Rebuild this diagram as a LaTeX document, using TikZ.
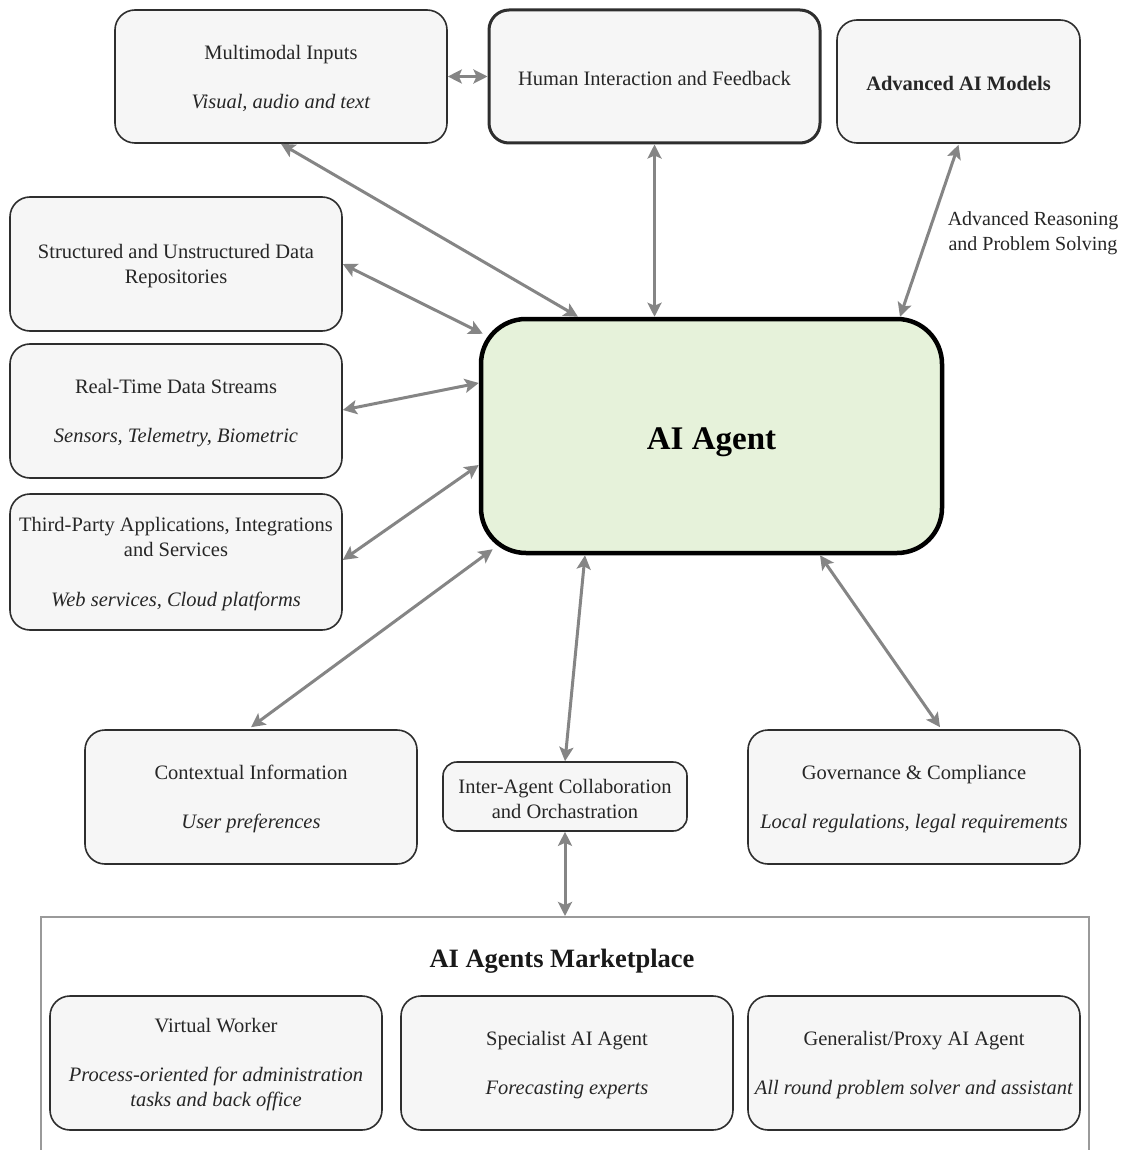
\documentclass[tikz,border=0pt]{standalone}
\usepackage{fontspec}
\setmainfont{Liberation Serif}
\usetikzlibrary{arrows.meta}
\definecolor{boxfill}{HTML}{F6F6F6}
\definecolor{boxline}{HTML}{2E2E2E}
\definecolor{agentfill}{HTML}{E6F2DA}
\definecolor{arrgray}{HTML}{858585}
\definecolor{framegray}{HTML}{9A9A9A}
\newcommand{\lowtxt}[2][2pt]{\raisebox{-#1}[\height][\depth]{#2}}
\begin{document}
\begin{tikzpicture}[x=1pt,y=-1pt,
  box/.style={draw=boxline, line width=1.6pt, fill=boxfill, rounded corners=20pt,
    align=center, inner sep=0pt, font=\fontsize{20.5}{25}\selectfont, text=black!85},
  arr/.style={{Stealth[length=14pt,width=14pt,inset=3pt]}-{Stealth[length=14pt,width=14pt,inset=3pt]},
    draw=arrgray, line width=3pt}
]
\useasboundingbox (0,0) rectangle (1124,1150);
\fill[white] (0,0) rectangle (1124,1150);

% top row
\node[box, minimum width=332pt, minimum height=133pt] (mm) at (281,76.5)
  {\lowtxt{Multimodal Inputs}\\[24pt]\lowtxt{\textit{Visual, audio and text}}};
\node[box, line width=3pt, minimum width=331pt, minimum height=133pt] (human) at (654.5,76.5)
  {\lowtxt{Human Interaction and Feedback}};
\node[box, minimum width=243pt, minimum height=123pt] (adv) at (958.5,81.5)
  {\lowtxt{\textbf{Advanced AI Models}}};

% left column
\node[box, minimum width=332pt, minimum height=134pt] (sud) at (176,264)
  {\lowtxt{Structured and Unstructured Data}\\\lowtxt{Repositories}};
\node[box, minimum width=332pt, minimum height=134pt] (rt) at (176,411)
  {\lowtxt{Real-Time Data Streams}\\[24pt]\lowtxt{\textit{Sensors, Telemetry, Biometric}}};
\node[box, minimum width=332pt, minimum height=136pt] (tp) at (176,562)
  {\lowtxt{Third-Party Applications, Integrations}\\\lowtxt{and Services}\\[25pt]\lowtxt{\textit{Web services, Cloud platforms}}};

% central agent
\node[draw=black, line width=4.5pt, fill=agentfill, rounded corners=45pt,
  minimum width=461pt, minimum height=234pt, inner sep=0pt,
  font=\fontsize{33}{38}\selectfont\bfseries] (ai) at (711.5,436) {\lowtxt[6pt]{AI Agent}};

% lower row
\node[box, minimum width=332pt, minimum height=134pt] (ctx) at (251,797)
  {\lowtxt{Contextual Information}\\[24pt]\lowtxt{\textit{User preferences}}};
\node[box, rounded corners=14pt, minimum width=244pt, minimum height=69pt] (ia) at (565,796.5)
  {\lowtxt{Inter-Agent Collaboration}\\\lowtxt{and Orchastration}};
\node[box, minimum width=332pt, minimum height=134pt] (gov) at (914,797)
  {\lowtxt{Governance \& Compliance}\\[24pt]\lowtxt{\textit{Local regulations, legal requirements}}};

% marketplace
\node[draw=framegray, line width=2pt, minimum width=1048pt, minimum height=250pt, inner sep=0pt]
  (market) at (565,1042) {};
\node[font=\fontsize{26.5}{30}\selectfont\bfseries, text=black!90] (mtitle) at (562,961)
  {AI Agents Marketplace};
\node[box, minimum width=332pt, minimum height=134pt] (vw) at (216,1063)
  {\lowtxt{Virtual Worker}\\[24pt]\lowtxt{\textit{Process-oriented for administration}}\\\lowtxt{\textit{tasks and back office}}};
\node[box, minimum width=332pt, minimum height=134pt] (spec) at (567,1063)
  {\lowtxt{Specialist AI Agent}\\[24pt]\lowtxt{\textit{Forecasting experts}}};
\node[box, minimum width=332pt, minimum height=134pt] (gen) at (914,1063)
  {\lowtxt{Generalist/Proxy AI Agent}\\[24pt]\lowtxt{\textit{All round problem solver and assistant}}};

% label
\node[align=center, font=\fontsize{20}{25}\selectfont, text=black!85] (lbl) at (1033,233)
  {Advanced Reasoning\\and Problem Solving};

% connectors
\draw[arr] (mm.east) -- (human.west);
\draw[arr] (mm.south) -- ([xshift=-133.5pt]ai.north);
\draw[arr] (human.south) -- (human.south |- ai.north);
\draw[arr] ([yshift=-1pt]adv.south) -- ([xshift=188.5pt]ai.north);
\draw[arr] (sud.east) -- ([xshift=4pt,yshift=-17pt]ai.north west);
\draw[arr] ([yshift=1pt]rt.east) -- ([yshift=53pt]ai.west);
\draw[arr] ([yshift=2pt]tp.east) -- ([yshift=-29pt]ai.west);
\draw[arr] ([yshift=2pt]ctx.north) -- ([xshift=14pt,yshift=6pt]ai.south west);
\draw[arr] (ia.north) -- ([xshift=-126.5pt]ai.south);
\draw[arr] ([xshift=26pt,yshift=2pt]gov.north) -- ([xshift=108.5pt]ai.south);
\draw[arr] (ia.south) -- (market.north);
\end{tikzpicture}
\end{document}
